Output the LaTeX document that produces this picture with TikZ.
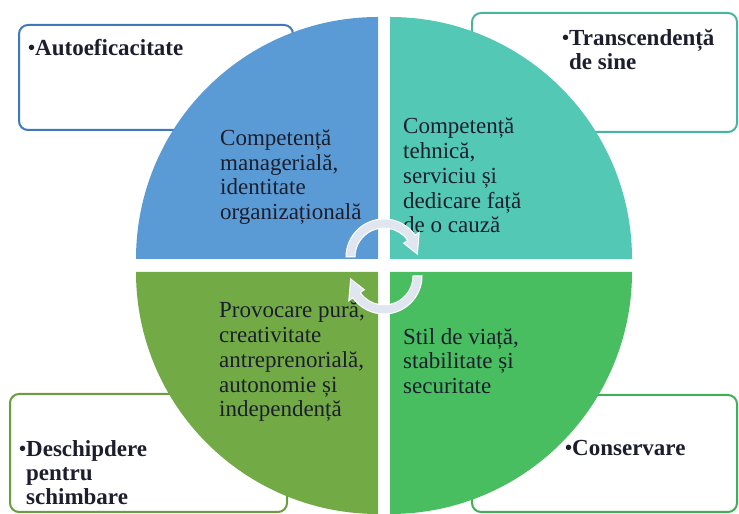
\documentclass[tikz,border=0pt]{standalone}
\usepackage{fontspec}
\setmainfont{Liberation Serif}
\usetikzlibrary{calc, positioning}

\definecolor{quadblue}{RGB}{91,155,213}
\definecolor{quadteal}{RGB}{82,200,181}
\definecolor{quadolive}{RGB}{114,170,70}
\definecolor{quadgreen}{RGB}{72,190,96}
\definecolor{edgeblue}{RGB}{62,122,186}
\definecolor{edgeteal}{RGB}{70,182,162}
\definecolor{edgeolive}{RGB}{104,158,62}
\definecolor{edgegreen}{RGB}{62,176,86}
\definecolor{inktext}{RGB}{28,30,45}
\definecolor{turnfill}{RGB}{224,230,240}

\newcommand{\dotmark}{\raisebox{0.1ex}{\fontsize{20}{20}\selectfont\textbullet}}

\begin{document}
\begin{tikzpicture}[
    x=1pt, y=1pt,
    corner/.style={draw, line width=2pt, rounded corners=9pt, fill=white},
    cornerlabel/.style={inner sep=0pt, align=left, font=\fontsize{23}{24}\selectfont\bfseries, text=inktext},
    quadtext/.style={inner sep=0pt, align=left, anchor=north west, font=\fontsize{23}{24.7}\selectfont, text=inktext},
    turn/.style={fill=turnfill, draw=white, line width=1pt}
]
\useasboundingbox (0,0) rectangle (739,514);

% Corner boxes
\node[corner, draw=edgeblue, minimum width=274pt, minimum height=105pt] (autobox) at (156,436.5) {};
\node[corner, draw=edgeteal, minimum width=265pt, minimum height=119pt] (sinebox) at (604.5,441.5) {};
\node[corner, draw=edgeolive, minimum width=277pt, minimum height=118pt] (changebox) at (148.5,61) {};
\node[corner, draw=edgegreen, minimum width=265pt, minimum height=117pt] (keepbox) at (604.5,60.5) {};

\node[cornerlabel, below right=15pt and 10pt of autobox.north west] (autolabel) {\dotmark Autoeficacitate};
\node[cornerlabel, below right=17pt and 91pt of sinebox.north west] (sinelabel) {\dotmark Transcendență\\\phantom{\dotmark}de sine};
\node[cornerlabel, below right=47pt and 10pt of changebox.north west] (changelabel) {\dotmark Deschipdere\\\phantom{\dotmark}pentru\\\phantom{\dotmark}schimbare};
\node[cornerlabel, below right=46pt and 94pt of keepbox.north west] (keeplabel) {\dotmark Conservare};

% Quadrants
\coordinate (ctr) at (384,248.5);
\fill[quadblue] ($(ctr)+(-6,6.5)$) -- ++(-242,0) arc[start angle=180, end angle=90, radius=242] -- cycle;
\fill[quadteal] ($(ctr)+(6,6.5)$) -- ++(0,242) arc[start angle=90, end angle=0, radius=242] -- cycle;
\fill[quadgreen] ($(ctr)+(6,-6.5)$) -- ++(242,0) arc[start angle=0, end angle=-90, radius=242] -- cycle;
\fill[quadolive] ($(ctr)+(-6,-6.5)$) -- ++(0,-242) arc[start angle=-90, end angle=-180, radius=242] -- cycle;

\node[quadtext] (mgmt) at (220,384.5) {Competență\\managerială,\\identitate\\organizațională};
\node[quadtext] (tech) at (403,396) {Competență\\tehnică,\\serviciu și\\dedicare față\\de o cauză};
\node[quadtext] (challenge) at (219,212) {Provocare pură,\\creativitate\\antreprenorială,\\autonomie și\\independență};
\node[quadtext] (life) at (403,186) {Stil de viață,\\stabilitate și\\securitate};

% Turning arrows in the middle
\coordinate (upturn) at (384,257);
\coordinate (downturn) at (384,238);
\filldraw[turn] ($(upturn)+(180:38)$) arc[start angle=180, end angle=35, radius=38]
    -- ($(upturn)+(35:43)$) -- ($(upturn)+(5:33.5)$) -- ($(upturn)+(35:24)$)
    -- ($(upturn)+(35:29)$) arc[start angle=35, end angle=180, radius=29] -- cycle;
\filldraw[turn] ($(downturn)+(0:38)$) arc[start angle=0, end angle=-145, radius=38]
    -- ($(downturn)+(-145:43)$) -- ($(downturn)+(-175:33.5)$) -- ($(downturn)+(-145:24)$)
    -- ($(downturn)+(-145:29)$) arc[start angle=-145, end angle=0, radius=29] -- cycle;

\end{tikzpicture}
\end{document}
